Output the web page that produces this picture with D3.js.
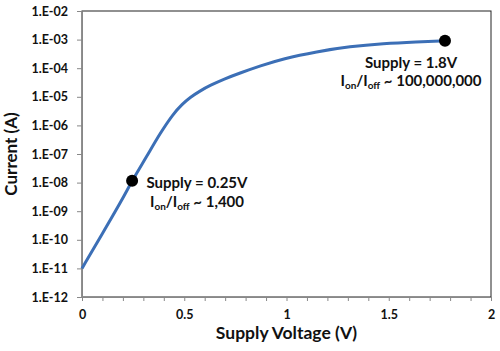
<!doctype html>
<html lang="en">
<head>
    <meta charset="UTF-8">
    <title>Current vs Supply Voltage</title>
    <style>
        body {
            margin: 0;
            background: #fff;
        }

        svg text {
            font-family: Lato, "Open Sans", sans-serif;
            font-weight: bold;
            fill: #111;
        }
    </style>
</head>
<body>
<div class="chart"></div>
<script src="https://d3js.org/d3.v7.min.js"></script>
<script>
  // values
  const voltage = [0, 0.1, 0.2, 0.245, 0.316, 0.381, 0.447, 0.49, 0.528, 0.577, 0.626, 0.699, 0.773, 0.871, 0.983, 1.148, 1.311, 1.473, 1.637, 1.775]
  const current = [1.0e-11, 1.66e-10, 2.8e-9, 1.17e-8, 8.1e-8, 5.2e-7, 2.6e-6, 5.5e-6, 9.5e-6, 1.6e-5, 2.5e-5, 4.3e-5, 6.8e-5, 1.2e-4, 2.15e-4, 3.8e-4, 5.75e-4, 7.25e-4, 8.3e-4, 9.1e-4]

  const markerVoltage = [0.245, 1.775]
  const markerCurrent = [1.17e-8, 9.1e-4]
  const markerLine1 = ['Supply = 0.25V', 'Supply = 1.8V']
  const markerRatio = ['1,400', '100,000,000']

  const yTicks = [1e-12, 1e-11, 1e-10, 1e-9, 1e-8, 1e-7, 1e-6, 1e-5, 1e-4, 1e-3, 1e-2]
  const xLabels = [0, 0.5, 1, 1.5, 2]

  const width = 500
  const height = 351
  const margin = {top: 11, right: 9, bottom: 54, left: 82}

  const svg = d3.select('.chart')
    .append('svg')
    .attr('width', width)
    .attr('height', height)

  const x = d3.scaleLinear().domain([0, 2]).range([margin.left, width - margin.right])
  const y = d3.scaleLog().domain([1e-12, 1e-2]).range([height - margin.bottom, margin.top])

  // plot frame
  svg.append('rect')
    .attr('x', margin.left)
    .attr('y', margin.top)
    .attr('width', width - margin.right - margin.left)
    .attr('height', height - margin.bottom - margin.top)
    .attr('fill', 'none')
    .attr('stroke', '#222')
    .attr('stroke-width', 1)

  const fmtY = d => '1.E-' + String(-Math.round(Math.log10(d))).padStart(2, '0')

  const yAxis = d3.axisLeft(y).tickValues(yTicks).tickFormat(fmtY).tickSize(5).tickPadding(9)
  const gy = svg.append('g')
    .attr('transform', `translate(${margin.left}, 0)`)
    .call(yAxis)
  gy.selectAll('text').style('font-size', '12.5px')

  const xTickVals = d3.range(0, 21).map(i => i / 10)
  const xAxis = d3.axisBottom(x)
    .tickValues(xTickVals)
    .tickFormat(d => xLabels.some(v => Math.abs(v - d) < 1e-9) ? String(+d.toFixed(1)) : '')
    .tickSize(4)
    .tickPadding(9)
  const gx = svg.append('g')
    .attr('transform', `translate(0, ${height - margin.bottom})`)
    .call(xAxis)
  gx.selectAll('text').style('font-size', '12.5px')

  svg.selectAll('.domain, .tick line').attr('stroke', '#888')

  // axis titles
  svg.append('text')
    .attr('x', (margin.left + width - margin.right) / 2)
    .attr('y', 339)
    .attr('text-anchor', 'middle')
    .style('font-size', '17.5px')
    .text('Supply Voltage (V)')

  svg.append('text')
    .attr('transform', `translate(17, ${(margin.top + height - margin.bottom) / 2}) rotate(-90)`)
    .attr('text-anchor', 'middle')
    .style('font-size', '17px')
    .text('Current (A)')

  // curve
  const pts = voltage.map((v, i) => [x(v), y(current[i])])
  svg.append('path')
    .attr('d', d3.line().curve(d3.curveBasis)(pts))
    .attr('fill', 'none')
    .attr('stroke', '#3c6fb6')
    .attr('stroke-width', 3)

  // markers
  svg.selectAll('circle.marker')
    .data(markerVoltage)
    .enter()
    .append('circle')
    .attr('class', 'marker')
    .attr('cx', d => x(d))
    .attr('cy', (d, i) => y(markerCurrent[i]))
    .attr('r', 6)
    .attr('fill', '#000')

  // annotations (centre x, first baseline, second baseline)
  const labelPos = [[197, 188, 207], [411, 68, 86]]
  markerLine1.forEach((t, i) => {
    const p = labelPos[i]
    svg.append('text')
      .attr('x', p[0])
      .attr('y', p[1])
      .attr('text-anchor', 'middle')
      .style('font-size', '15px')
      .text(t)
    const t2 = svg.append('text')
      .attr('x', p[0])
      .attr('y', p[2])
      .attr('text-anchor', 'middle')
      .style('font-size', '15px')
    t2.append('tspan').text('I')
    t2.append('tspan').attr('dy', 3).style('font-size', '10px').text('on')
    t2.append('tspan').attr('dy', -3).text('/I')
    t2.append('tspan').attr('dy', 3).style('font-size', '10px').text('off')
    t2.append('tspan').attr('dy', -3).text(' ~ ' + markerRatio[i])
  })
</script>
</body>
</html>
